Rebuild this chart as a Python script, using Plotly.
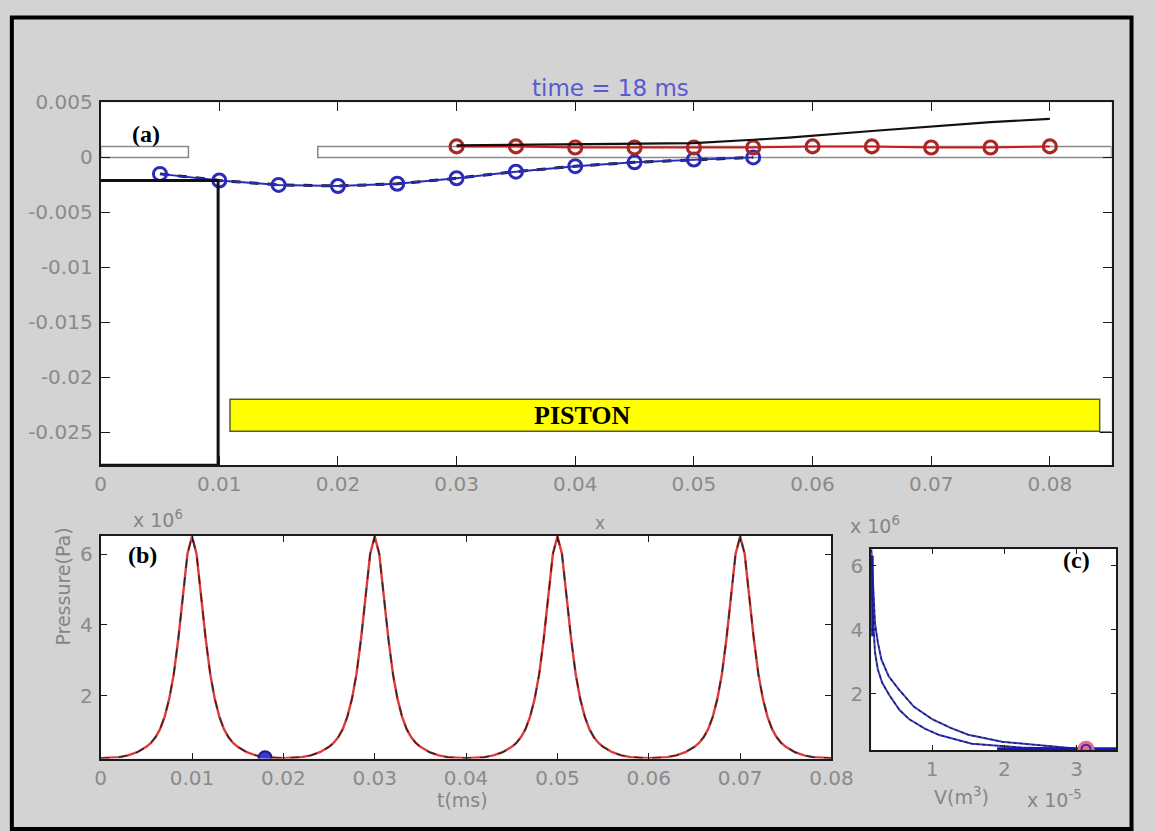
import plotly.graph_objects as go

W, H = 1155, 831

# ---------------- data: panel (a) ----------------
blue_x = [0.005, 0.010, 0.015, 0.020, 0.025, 0.030, 0.035, 0.040, 0.045, 0.050, 0.055]
blue_y = [-0.0015, -0.0021, -0.0025, -0.0026, -0.0024, -0.0019, -0.0013, -0.0008, -0.00045, -0.0002, 0.0000]
red_x = [0.030, 0.035, 0.040, 0.045, 0.050, 0.055, 0.060, 0.065, 0.070, 0.075, 0.080]
red_y = [0.0010, 0.0010, 0.0009, 0.0009, 0.0009, 0.0009, 0.0010, 0.0010, 0.0009, 0.0009, 0.0010]
rise_x = [0.030, 0.040, 0.050, 0.055, 0.058, 0.065, 0.070, 0.075, 0.080]
rise_y = [0.0011, 0.0012, 0.0013, 0.0016, 0.0018, 0.0024, 0.0028, 0.0032, 0.0035]
cyl_x = [0.0, 0.0099, 0.0099, 0.0]
cyl_y = [-0.0021, -0.0021, -0.0280, -0.0280]
rod_x = [0.0842, 0.0852]
rod_y = [-0.0250, -0.0250]
slot_left = [0.0, 0.0074]
slot_right = [0.0183, 0.0852]
slot_y = [0.0, 0.0010]
piston_x = [0.0109, 0.0842]
piston_y = [-0.0249, -0.0220]
a_xticks = [0, 0.01, 0.02, 0.03, 0.04, 0.05, 0.06, 0.07, 0.08]
a_xlabels = ["0", "0.01", "0.02", "0.03", "0.04", "0.05", "0.06", "0.07", "0.08"]
a_yticks = [0.005, 0, -0.005, -0.01, -0.015, -0.02, -0.025]
a_ylabels = ["0.005", "0", "-0.005", "-0.01", "-0.015", "-0.02", "-0.025"]

# ---------------- data: panel (b) (pressure in units of 1e6 Pa) ----------------
time_ms = [
    0.000, 0.002, 0.003, 0.004, 0.005, 0.0055, 0.006, 0.0065, 0.007, 0.0075, 0.008, 0.0085, 0.009, 0.0095,
    0.010, 0.0105, 0.011, 0.0115, 0.012, 0.0125, 0.013, 0.0135, 0.014, 0.0145, 0.015, 0.016, 0.017, 0.018,
    0.020, 0.022, 0.023, 0.024, 0.025, 0.0255, 0.026, 0.0265, 0.027, 0.0275, 0.028, 0.0285, 0.029, 0.0295,
    0.030, 0.0305, 0.031, 0.0315, 0.032, 0.0325, 0.033, 0.0335, 0.034, 0.0345, 0.035, 0.036, 0.037, 0.038,
    0.040, 0.042, 0.043, 0.044, 0.045, 0.0455, 0.046, 0.0465, 0.047, 0.0475, 0.048, 0.0485, 0.049, 0.0495,
    0.050, 0.0505, 0.051, 0.0515, 0.052, 0.0525, 0.053, 0.0535, 0.054, 0.0545, 0.055, 0.056, 0.057, 0.058,
    0.060, 0.062, 0.063, 0.064, 0.065, 0.0655, 0.066, 0.0665, 0.067, 0.0675, 0.068, 0.0685, 0.069, 0.0695,
    0.070, 0.0705, 0.071, 0.0715, 0.072, 0.0725, 0.073, 0.0735, 0.074, 0.0745, 0.075, 0.076, 0.077, 0.078,
    0.080,
]
pressure = [
    0.23, 0.26, 0.31, 0.40, 0.55, 0.66, 0.82, 1.05, 1.40, 1.90, 2.60, 3.60, 4.80, 6.00,
    6.50, 6.00, 4.80, 3.60, 2.60, 1.90, 1.40, 1.05, 0.82, 0.66, 0.55, 0.40, 0.31, 0.26,
    0.23, 0.26, 0.31, 0.40, 0.55, 0.66, 0.82, 1.05, 1.40, 1.90, 2.60, 3.60, 4.80, 6.00,
    6.50, 6.00, 4.80, 3.60, 2.60, 1.90, 1.40, 1.05, 0.82, 0.66, 0.55, 0.40, 0.31, 0.26,
    0.23, 0.26, 0.31, 0.40, 0.55, 0.66, 0.82, 1.05, 1.40, 1.90, 2.60, 3.60, 4.80, 6.00,
    6.50, 6.00, 4.80, 3.60, 2.60, 1.90, 1.40, 1.05, 0.82, 0.66, 0.55, 0.40, 0.31, 0.26,
    0.23, 0.26, 0.31, 0.40, 0.55, 0.66, 0.82, 1.05, 1.40, 1.90, 2.60, 3.60, 4.80, 6.00,
    6.50, 6.00, 4.80, 3.60, 2.60, 1.90, 1.40, 1.05, 0.82, 0.66, 0.55, 0.40, 0.31, 0.26,
    0.23,
]
now_t = [0.018]
now_p = [0.24]
b_xticks = [0, 0.01, 0.02, 0.03, 0.04, 0.05, 0.06, 0.07, 0.08]
b_xlabels = ["0", "0.01", "0.02", "0.03", "0.04", "0.05", "0.06", "0.07", "0.08"]
b_yticks = [2, 4, 6]
b_ylabels = ["2", "4", "6"]

# ---------------- data: panel (c) (V in 1e-5 m^3, P in 1e6 Pa) ----------------
vol_upper = [0.16, 0.17, 0.19, 0.21, 0.25, 0.30, 0.40, 0.54, 0.75, 1.00, 1.25, 1.50, 1.97, 2.40, 2.70, 3.13]
p_upper = [6.50, 6.00, 5.00, 4.20, 3.60, 3.07, 2.55, 2.14, 1.60, 1.22, 0.95, 0.73, 0.51, 0.42, 0.36, 0.27]
vol_lower = [0.16, 0.17, 0.19, 0.21, 0.25, 0.31, 0.41, 0.55, 0.68, 0.90, 1.10, 1.55, 2.24, 2.70, 3.13]
p_lower = [6.30, 5.00, 4.10, 3.30, 2.76, 2.35, 1.96, 1.50, 1.22, 0.92, 0.72, 0.45, 0.33, 0.29, 0.27]
edge_v = [0.165, 0.165]
edge_p = [3.8, 6.3]
floor_v = [1.90, 3.55]
floor_p = [0.28, 0.28]
now_v = [3.13]
now_pc = [0.28]
c_xticks = [1, 2, 3]
c_xlabels = ["1", "2", "3"]
c_yticks = [2, 4, 6]
c_ylabels = ["2", "4", "6"]

# ---------------- figure ----------------
def px(x):
    return x / W

def py(y):
    return 1 - y / H

TICKFONT = dict(family="DejaVu Sans", size=20, color="#8a8a8a")
BLUE = "#2b2bb8"
DARKRED = "#a82828"

fig = go.Figure()

# panel (a)
fig.add_trace(go.Scatter(x=blue_x, y=blue_y, mode="lines", line=dict(color="#111111", width=3, dash="dash"),
                         xaxis="x", yaxis="y", hoverinfo="skip"))
fig.add_trace(go.Scatter(x=blue_x, y=blue_y, mode="lines+markers", line=dict(color=BLUE, width=2),
                         marker=dict(symbol="circle-open", size=13, color=BLUE, line=dict(width=3)),
                         xaxis="x", yaxis="y"))
fig.add_trace(go.Scatter(x=red_x, y=red_y, mode="lines+markers", line=dict(color="#d01818", width=2),
                         marker=dict(symbol="circle-open", size=13, color=DARKRED, line=dict(width=3.2)),
                         xaxis="x", yaxis="y"))
fig.add_trace(go.Scatter(x=rise_x, y=rise_y, mode="lines", line=dict(color="#111111", width=2.2),
                         xaxis="x", yaxis="y"))
fig.add_trace(go.Scatter(x=cyl_x, y=cyl_y, mode="lines", line=dict(color="#111111", width=3),
                         xaxis="x", yaxis="y"))
fig.add_trace(go.Scatter(x=rod_x, y=rod_y, mode="lines", line=dict(color="#111111", width=1.5),
                         xaxis="x", yaxis="y"))

# panel (b)
fig.add_trace(go.Scatter(x=time_ms, y=pressure, mode="lines", line=dict(color="#e03a3a", width=2.4),
                         xaxis="x2", yaxis="y2"))
fig.add_trace(go.Scatter(x=time_ms, y=pressure, mode="lines", line=dict(color="#2a2a2a", width=1.5, dash="dash"),
                         xaxis="x2", yaxis="y2"))
fig.add_trace(go.Scatter(x=now_t, y=now_p, mode="markers",
                         marker=dict(symbol="circle", size=13, color="#3a3ad0", line=dict(color="#1a1a90", width=2)),
                         xaxis="x2", yaxis="y2"))

# panel (c)
fig.add_trace(go.Scatter(x=vol_upper, y=p_upper, mode="lines", line=dict(color="#3c3cc8", width=2),
                         xaxis="x3", yaxis="y3"))
fig.add_trace(go.Scatter(x=vol_lower, y=p_lower, mode="lines", line=dict(color="#3c3cc8", width=2),
                         xaxis="x3", yaxis="y3"))
fig.add_trace(go.Scatter(x=vol_upper, y=p_upper, mode="lines", line=dict(color="#1a1a40", width=1.2, dash="dot"),
                         xaxis="x3", yaxis="y3"))
fig.add_trace(go.Scatter(x=vol_lower, y=p_lower, mode="lines", line=dict(color="#1a1a40", width=1.2, dash="dot"),
                         xaxis="x3", yaxis="y3"))
fig.add_trace(go.Scatter(x=edge_v, y=edge_p, mode="lines", line=dict(color="#1a1aa8", width=4),
                         xaxis="x3", yaxis="y3"))
fig.add_trace(go.Scatter(x=floor_v, y=floor_p, mode="lines", line=dict(color="#1414c0", width=4),
                         xaxis="x3", yaxis="y3"))
fig.add_trace(go.Scatter(x=now_v, y=now_pc, mode="markers",
                         marker=dict(symbol="circle", size=17, color="#f06a8a", line=dict(width=0)),
                         xaxis="x3", yaxis="y3"))
fig.add_trace(go.Scatter(x=now_v, y=now_pc, mode="markers",
                         marker=dict(symbol="circle-open", size=9, color="#3030c0", line=dict(width=2)),
                         xaxis="x3", yaxis="y3"))

def axis_common(ticklen):
    return dict(showline=True, linecolor="#1a1a1a", linewidth=2, mirror="ticks", ticks="inside",
                ticklen=ticklen, tickcolor="#1a1a1a", tickwidth=1, showgrid=False, zeroline=False,
                tickfont=TICKFONT, tickmode="array", fixedrange=True)

shapes = [
    dict(type="rect", xref="x", yref="y", x0=slot_left[0], x1=slot_left[1], y0=slot_y[0], y1=slot_y[1],
         line=dict(color="#8a8a8a", width=1.5), fillcolor="white", layer="below"),
    dict(type="rect", xref="x", yref="y", x0=slot_right[0], x1=slot_right[1], y0=slot_y[0], y1=slot_y[1],
         line=dict(color="#8a8a8a", width=1.5), fillcolor="white", layer="below"),
    dict(type="rect", xref="x", yref="y", x0=piston_x[0], x1=piston_x[1], y0=piston_y[0], y1=piston_y[1],
         line=dict(color="#5a5a30", width=1.5), fillcolor="#ffff00", layer="below"),
    # outer frame of the picture
    dict(type="rect", xref="paper", yref="paper", x0=px(6), x1=px(1153.5), y0=py(829), y1=py(5.5),
         line=dict(color="#000000", width=4), fillcolor="rgba(0,0,0,0)"),
]

GRAY = "#858585"
annotations = [
    dict(text="time = 18 ms", x=px(620), y=py(62), xref="paper", yref="paper", showarrow=False,
         font=dict(family="DejaVu Sans", size=23, color="#5a5ad0")),
    dict(text="<b>(a)</b>", x=px(127), y=py(109), xref="paper", yref="paper", showarrow=False,
         font=dict(family="Liberation Serif", size=24, color="black")),
    dict(text="<b>PISTON</b>", x=px(591), y=py(409), xref="paper", yref="paper", showarrow=False,
         font=dict(family="Liberation Serif", size=26, color="black")),
    dict(text="x", x=px(609), y=py(518), xref="paper", yref="paper", showarrow=False,
         font=dict(family="DejaVu Sans", size=17, color=GRAY)),
    dict(text="x 10<sup>6</sup>", x=px(128), y=py(514), xref="paper", yref="paper", showarrow=False,
         font=dict(family="DejaVu Sans", size=19, color=GRAY)),
    dict(text="<b>(b)</b>", x=px(123), y=py(551), xref="paper", yref="paper", showarrow=False,
         font=dict(family="Liberation Serif", size=24, color="black")),
    dict(text="Pressure(Pa)", x=px(45), y=py(645), xref="paper", yref="paper", showarrow=False, textangle=-90,
         font=dict(family="DejaVu Sans", size=19, color=GRAY)),
    dict(text="t(ms)", x=px(468), y=py(813), xref="paper", yref="paper", showarrow=False,
         font=dict(family="DejaVu Sans", size=19, color=GRAY)),
    dict(text="x 10<sup>6</sup>", x=px(918), y=py(521), xref="paper", yref="paper", showarrow=False,
         font=dict(family="DejaVu Sans", size=19, color=GRAY)),
    dict(text="<b>(c)</b>", x=px(1113), y=py(571), xref="paper", yref="paper", showarrow=False,
         font=dict(family="Liberation Serif", size=24, color="black")),
    dict(text="V(m<sup>3</sup>)", x=px(1009), y=py(810), xref="paper", yref="paper", showarrow=False,
         font=dict(family="DejaVu Sans", size=19, color=GRAY)),
    dict(text="x 10<sup>-5</sup>", x=px(1105), y=py(813), xref="paper", yref="paper", showarrow=False,
         font=dict(family="DejaVu Sans", size=19, color=GRAY)),
]

fig.update_layout(
    width=W, height=H, autosize=False,
    margin=dict(l=0, r=0, t=0, b=0),
    paper_bgcolor="#d3d3d3", plot_bgcolor="white",
    showlegend=False,
    xaxis=dict(domain=[px(97), px(1133)], range=[0, 0.0852], anchor="y",
               tickvals=a_xticks, ticktext=a_xlabels, ticklabelstandoff=0, **axis_common(9)),
    yaxis=dict(domain=[py(460), py(91.7)], range=[-0.028, 0.005], anchor="x",
               tickvals=a_yticks, ticktext=a_ylabels, ticklabelstandoff=2, **axis_common(9)),
    xaxis2=dict(domain=[px(97), px(846)], range=[0, 0.08], anchor="y2",
                tickvals=b_xticks, ticktext=b_xlabels, ticklabelstandoff=0, **axis_common(6)),
    yaxis2=dict(domain=[py(757.5), py(531.7)], range=[0.22, 6.51], anchor="x2",
                tickvals=b_yticks, ticktext=b_ylabels, ticklabelstandoff=2, **axis_common(6)),
    xaxis3=dict(domain=[px(886.7), px(1138)], range=[0.158, 3.55], anchor="y3",
                tickvals=c_xticks, ticktext=c_xlabels, ticklabelstandoff=0, **axis_common(5)),
    yaxis3=dict(domain=[py(749), py(545)], range=[0.25, 6.51], anchor="x3",
                tickvals=c_yticks, ticktext=c_ylabels, ticklabelstandoff=2, **axis_common(5)),
    shapes=shapes,
    annotations=annotations,
)

fig.write_html(
    "out.html",
    config={"displayModeBar": False},
    post_script="document.body.style.margin='0';document.body.style.overflow='hidden';",
)
